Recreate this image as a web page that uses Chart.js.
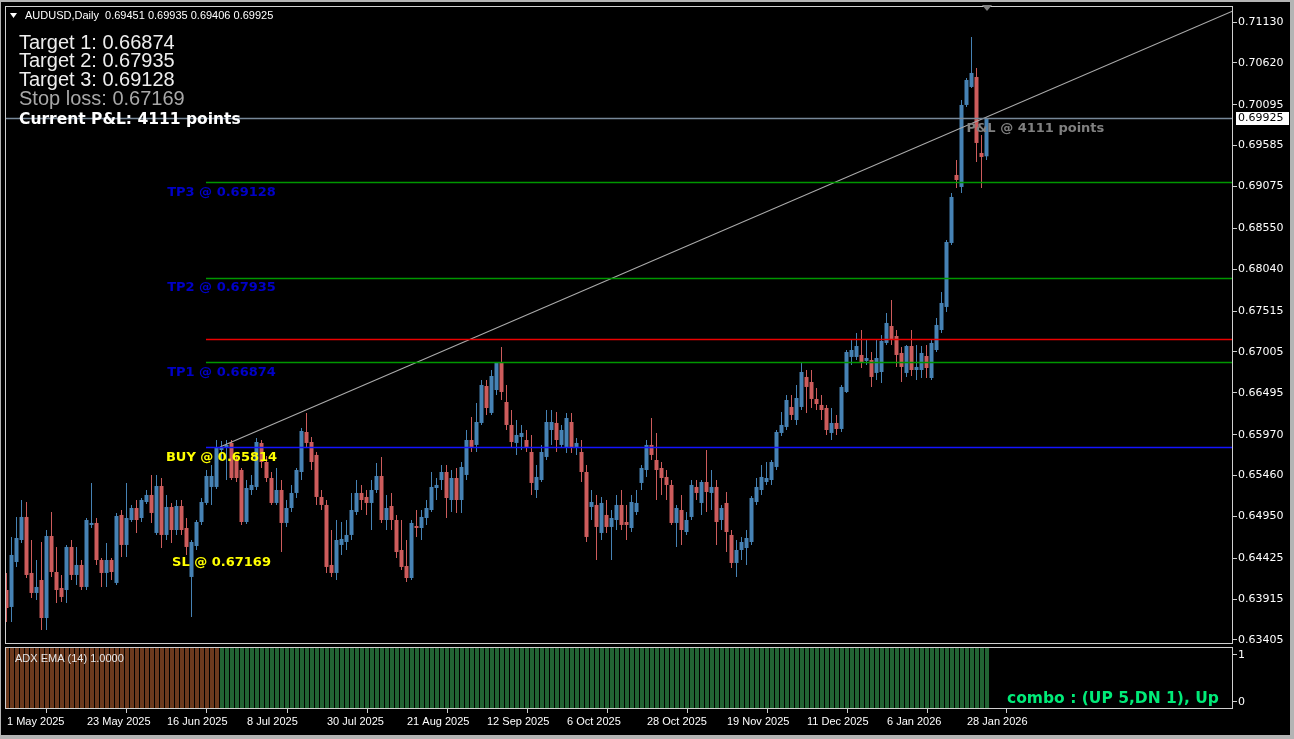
<!DOCTYPE html>
<html>
<head>
<meta charset="utf-8">
<title>AUDUSD,Daily</title>
<script src="https://cdn.jsdelivr.net/npm/chart.js@4.4.1/dist/chart.umd.min.js"></script>
<style>
  html, body { margin: 0; padding: 0; background: #b4b4b4; }
  #wrap { position: relative; width: 1294px; height: 739px; overflow: hidden; }
  #bg { position: absolute; left: 1px; top: 2px; width: 1289px; height: 733px; background: #000; }
  #mainChart { position: absolute; left: 0; top: 0; }
  #adxChart { position: absolute; left: 0; top: 646px; }
</style>
</head>
<body>
<div id="wrap">
  <div id="bg"></div>
  <canvas id="mainChart" width="1294" height="646"></canvas>
  <canvas id="adxChart" width="1294" height="93"></canvas>
</div>
<script>
// daily candles, 1 May 2025 .. 3 Feb 2026
const openP = [
  0.64030, 0.63818, 0.64380, 0.64655, 0.64943, 0.64243, 0.63993, 0.64155, 0.63680, 0.64705,
  0.64255, 0.64055, 0.64030, 0.64568, 0.64218, 0.64343, 0.64068, 0.64843, 0.64868, 0.64405,
  0.64243, 0.64405, 0.64118, 0.64968, 0.64593, 0.64905, 0.65055, 0.64930, 0.65130, 0.65218,
  0.64743, 0.65330, 0.64718, 0.65068, 0.64780, 0.65080, 0.64805, 0.64193, 0.64580, 0.64880,
  0.65118, 0.65318, 0.65318, 0.65780, 0.65805, 0.65868, 0.65655, 0.65530, 0.64880, 0.65280,
  0.65318, 0.65868, 0.65630, 0.65430, 0.65118, 0.65280, 0.64868, 0.65055, 0.65243, 0.65505,
  0.66005, 0.65880, 0.65718, 0.65193, 0.65093, 0.64343, 0.64243, 0.64593, 0.64630, 0.64718,
  0.65005, 0.65243, 0.65193, 0.65118, 0.65280, 0.65455, 0.64905, 0.65080, 0.64905, 0.64530,
  0.64330, 0.64180, 0.64830, 0.64805, 0.64930, 0.65030, 0.65305, 0.65405, 0.65505, 0.65155,
  0.65430, 0.65155, 0.65468, 0.65905, 0.65843, 0.66118, 0.66580, 0.66243, 0.66530, 0.66880,
  0.66380, 0.66093, 0.65868, 0.65943, 0.65905, 0.65755, 0.65280, 0.65405, 0.65693, 0.66030,
  0.66118, 0.65843, 0.65805, 0.66130, 0.65805, 0.65755, 0.65505, 0.65068, 0.65093, 0.64743,
  0.64968, 0.64818, 0.64905, 0.65093, 0.64880, 0.64805, 0.65005, 0.65368, 0.65530, 0.65843,
  0.65655, 0.65555, 0.65443, 0.65343, 0.64868, 0.65030, 0.64755, 0.64943, 0.65318, 0.65118,
  0.65380, 0.65243, 0.65318, 0.64905, 0.65118, 0.64718, 0.64368, 0.64530, 0.64555, 0.64630,
  0.65130, 0.65280, 0.65380, 0.65405, 0.65568, 0.65993, 0.66068, 0.66318, 0.66155, 0.66318,
  0.66693, 0.66630, 0.66418, 0.66343, 0.66305, 0.65993, 0.66118, 0.66043, 0.66505, 0.66943,
  0.66943, 0.66968, 0.66893, 0.66905, 0.66743, 0.66755, 0.67118, 0.67330, 0.67205, 0.66993,
  0.66743, 0.67080, 0.66780, 0.66780, 0.66955, 0.66680, 0.67030, 0.67280, 0.67568, 0.68368,
  0.69218, 0.69068, 0.70093, 0.70318, 0.70443, 0.69493, 0.69451
];
const highP = [
  0.64243, 0.64693, 0.64943, 0.65155, 0.65130, 0.64655, 0.64405, 0.64630, 0.64780, 0.65005,
  0.64568, 0.64218, 0.64593, 0.64655, 0.64568, 0.64405, 0.64930, 0.65368, 0.64930, 0.64430,
  0.64618, 0.64430, 0.64993, 0.65030, 0.65368, 0.65093, 0.65155, 0.65180, 0.65280, 0.65468,
  0.65468, 0.65430, 0.65218, 0.65118, 0.65155, 0.65155, 0.64930, 0.64655, 0.64905, 0.65180,
  0.65530, 0.65593, 0.65905, 0.65893, 0.65905, 0.65905, 0.65718, 0.65555, 0.65405, 0.65468,
  0.65930, 0.65905, 0.65705, 0.65505, 0.65555, 0.65405, 0.65155, 0.65343, 0.65555, 0.66055,
  0.66243, 0.65943, 0.65755, 0.65280, 0.65155, 0.64780, 0.64905, 0.64880, 0.64905, 0.65243,
  0.65405, 0.65343, 0.65280, 0.65405, 0.65618, 0.65693, 0.65218, 0.65243, 0.64968, 0.64905,
  0.64655, 0.64905, 0.65030, 0.65030, 0.65155, 0.65505, 0.65430, 0.65593, 0.65593, 0.65530,
  0.65555, 0.65630, 0.66030, 0.66193, 0.66368, 0.66655, 0.66655, 0.66780, 0.66880, 0.67068,
  0.66593, 0.66280, 0.66155, 0.66093, 0.66030, 0.65968, 0.65593, 0.65843, 0.66280, 0.66280,
  0.66255, 0.66093, 0.66243, 0.66243, 0.65930, 0.65905, 0.65593, 0.65280, 0.65218, 0.65193,
  0.65155, 0.65030, 0.65218, 0.65280, 0.65093, 0.65218, 0.65280, 0.65593, 0.65905, 0.66180,
  0.65993, 0.65630, 0.65530, 0.65405, 0.65093, 0.65218, 0.65005, 0.65405, 0.65405, 0.65405,
  0.65780, 0.65530, 0.65405, 0.65093, 0.65255, 0.64780, 0.64655, 0.64693, 0.64780, 0.65205,
  0.65430, 0.65593, 0.65630, 0.65655, 0.66030, 0.66255, 0.66468, 0.66468, 0.66593, 0.66868,
  0.66780, 0.66780, 0.66555, 0.66468, 0.66343, 0.66305, 0.66218, 0.66593, 0.67030, 0.67155,
  0.67243, 0.67280, 0.67155, 0.67005, 0.67155, 0.67218, 0.67493, 0.67655, 0.67280, 0.67068,
  0.67093, 0.67280, 0.67093, 0.67080, 0.67093, 0.67155, 0.67430, 0.67755, 0.68405, 0.68993,
  0.69405, 0.70155, 0.70430, 0.70943, 0.70555, 0.69718, 0.69935
];
const lowP = [
  0.63630, 0.63630, 0.64318, 0.64618, 0.64180, 0.63930, 0.63905, 0.63530, 0.63530, 0.64193,
  0.63868, 0.63880, 0.63868, 0.64155, 0.64093, 0.64030, 0.64030, 0.64805, 0.64343, 0.64068,
  0.64068, 0.64155, 0.64093, 0.64443, 0.64443, 0.64880, 0.64743, 0.64880, 0.65105, 0.64868,
  0.64718, 0.64555, 0.64655, 0.64618, 0.64718, 0.64718, 0.64468, 0.63693, 0.64530, 0.64843,
  0.65093, 0.65093, 0.65293, 0.65655, 0.65405, 0.65405, 0.65380, 0.64843, 0.64855, 0.65218,
  0.65280, 0.65555, 0.65380, 0.65093, 0.65093, 0.64505, 0.64818, 0.65005, 0.65180, 0.65405,
  0.65818, 0.65530, 0.65093, 0.65030, 0.64243, 0.64193, 0.64155, 0.64468, 0.64530, 0.64655,
  0.64968, 0.65030, 0.64968, 0.64780, 0.65243, 0.64868, 0.64780, 0.64780, 0.64430, 0.64280,
  0.64130, 0.64155, 0.64693, 0.64655, 0.64843, 0.65005, 0.65155, 0.65280, 0.64930, 0.65005,
  0.64993, 0.64993, 0.65405, 0.65755, 0.65755, 0.66093, 0.66218, 0.66218, 0.66468, 0.66405,
  0.66030, 0.65805, 0.65718, 0.65780, 0.65755, 0.65218, 0.65180, 0.65380, 0.65655, 0.65843,
  0.65755, 0.65805, 0.65743, 0.65743, 0.65718, 0.65380, 0.64630, 0.64905, 0.64405, 0.64655,
  0.64743, 0.64405, 0.64780, 0.64780, 0.64655, 0.64755, 0.64968, 0.65280, 0.65443, 0.65655,
  0.65155, 0.65218, 0.65155, 0.64843, 0.64568, 0.64593, 0.64718, 0.64905, 0.65155, 0.64968,
  0.65005, 0.65030, 0.64593, 0.64780, 0.64505, 0.64305, 0.64193, 0.64405, 0.64343, 0.64593,
  0.65093, 0.65218, 0.65343, 0.65343, 0.65530, 0.65955, 0.66030, 0.66155, 0.66093, 0.66280,
  0.66243, 0.66305, 0.66280, 0.66155, 0.65968, 0.65905, 0.65968, 0.66005, 0.66493, 0.66843,
  0.66905, 0.66805, 0.66843, 0.66568, 0.66655, 0.66618, 0.67093, 0.67093, 0.66818, 0.66630,
  0.66693, 0.66705, 0.66655, 0.66680, 0.66680, 0.66655, 0.67005, 0.67243, 0.67505, 0.68343,
  0.69055, 0.68993, 0.70068, 0.70305, 0.69380, 0.69055, 0.69406
];
const closeP = [
  0.63805, 0.64468, 0.64680, 0.64943, 0.64218, 0.63993, 0.64068, 0.63680, 0.64705, 0.64255,
  0.64030, 0.63943, 0.64568, 0.64218, 0.64343, 0.64068, 0.64905, 0.64868, 0.64405, 0.64243,
  0.64405, 0.64255, 0.64955, 0.64593, 0.64930, 0.65055, 0.64905, 0.65155, 0.65218, 0.64993,
  0.65330, 0.64718, 0.65068, 0.64780, 0.65080, 0.64780, 0.64568, 0.64630, 0.64880, 0.65130,
  0.65455, 0.65455, 0.65805, 0.65818, 0.65843, 0.65430, 0.65430, 0.64880, 0.65305, 0.65343,
  0.65880, 0.65630, 0.65430, 0.65118, 0.65280, 0.64868, 0.65055, 0.65243, 0.65530, 0.66018,
  0.65868, 0.65630, 0.65193, 0.65093, 0.64318, 0.64243, 0.64655, 0.64668, 0.64718, 0.65030,
  0.65243, 0.65155, 0.65118, 0.65280, 0.65455, 0.64905, 0.65055, 0.64905, 0.64505, 0.64318,
  0.64180, 0.64868, 0.64805, 0.64943, 0.65055, 0.65318, 0.65343, 0.65505, 0.65180, 0.65430,
  0.65155, 0.65568, 0.65905, 0.65818, 0.66130, 0.66593, 0.66305, 0.66705, 0.66868, 0.66505,
  0.66093, 0.65880, 0.65968, 0.65993, 0.65805, 0.65368, 0.65443, 0.65755, 0.66130, 0.66130,
  0.65905, 0.66030, 0.66180, 0.65805, 0.65868, 0.65505, 0.64693, 0.65130, 0.64818, 0.65118,
  0.64818, 0.64930, 0.65093, 0.64843, 0.64843, 0.65130, 0.65118, 0.65555, 0.65843, 0.65718,
  0.65530, 0.65430, 0.65343, 0.64868, 0.65055, 0.64780, 0.64905, 0.65343, 0.65243, 0.65380,
  0.65255, 0.65318, 0.64880, 0.65055, 0.64755, 0.64368, 0.64530, 0.64630, 0.64680, 0.65180,
  0.65318, 0.65443, 0.65430, 0.65630, 0.66005, 0.66093, 0.66405, 0.66218, 0.66430, 0.66755,
  0.66568, 0.66418, 0.66355, 0.66280, 0.66030, 0.66118, 0.66043, 0.66568, 0.67005, 0.67030,
  0.67080, 0.66880, 0.66930, 0.66693, 0.66930, 0.67143, 0.67368, 0.67168, 0.66968, 0.66818,
  0.67080, 0.66780, 0.66818, 0.66993, 0.66805, 0.67118, 0.67343, 0.67618, 0.68380, 0.68943,
  0.69155, 0.70093, 0.70405, 0.70493, 0.69618, 0.69443, 0.69925
];

const priceTicks = [0.71130, 0.70620, 0.70095, 0.69585, 0.69075, 0.68550, 0.68040, 0.67515,
                    0.67005, 0.66495, 0.65970, 0.65460, 0.64950, 0.64425, 0.63915, 0.63405];
const dateTickIdx = [0, 16, 32, 48, 64, 80, 96, 112, 128, 144, 160, 176, 192];
const dateLabels = ['1 May 2025', '23 May 2025', '16 Jun 2025', '8 Jul 2025', '30 Jul 2025',
                    '21 Aug 2025', '12 Sep 2025', '6 Oct 2025', '28 Oct 2025', '19 Nov 2025',
                    '11 Dec 2025', '6 Jan 2026', '28 Jan 2026'];

// trade levels
const buyPrice = 0.65814;
const slPrice = 0.67169;
const tpPrices = [0.66874, 0.67935, 0.69128];
const levelStartIdx = 40;
const trendX = [42.7, 245.28];
const trendY = [0.65818, 0.71268];

// ADX EMA(14) regime per bar: D = brown, U = green
const adxTrend = [
  'DDDDDDDDDD', 'DDDDDDDDDD', 'DDDDDDDDDD', 'DDDDDDDDDD', 'DDDUUUUUUU',
  'UUUUUUUUUU', 'UUUUUUUUUU', 'UUUUUUUUUU', 'UUUUUUUUUU', 'UUUUUUUUUU',
  'UUUUUUUUUU', 'UUUUUUUUUU', 'UUUUUUUUUU', 'UUUUUUUUUU', 'UUUUUUUUUU',
  'UUUUUUUUUU', 'UUUUUUUUUU', 'UUUUUUUUUU', 'UUUUUUUUUU', 'UUUUUUU'
].join('');
const adxLow = -0.15;
const adxHigh = 1.17;

const xMin = -0.3, xMax = 245.3;
const yMin = 0.63355, yMax = 0.71330;

const upColor = 'rgb(70,130,180)';
const dnColor = 'rgb(205,92,92)';
const frameColor = '#cfcfcf';

const idx = closeP.map((_, i) => i);
const candleColors = closeP.map((c, i) => c >= openP[i] ? upColor : dnColor);
const last = closeP.length - 1;

// horizontal objects: price, colour, first bar (null = whole width)
const levels = [
    [tpPrices[2], 'rgb(0,150,0)', levelStartIdx],
    [tpPrices[1], 'rgb(0,150,0)', levelStartIdx],
    [tpPrices[0], 'rgb(0,150,0)', levelStartIdx],
    [slPrice, 'rgb(235,0,0)', levelStartIdx],
    [buyPrice, 'rgb(20,20,255)', levelStartIdx],
    [closeP[last], 'rgb(119,136,153)', null]
];

function drawFrame(chart) {
    const a = chart.chartArea;
    const ctx = chart.ctx;
    ctx.save();
    ctx.strokeStyle = frameColor;
    ctx.lineWidth = 1;
    ctx.strokeRect(a.left + 0.5, a.top + 0.5, a.right - a.left - 1, a.bottom - a.top - 1);
    ctx.restore();
}

// level lines, texts, labels and the price box on top of the main window
const overlayPlugin = {
    id: 'overlay',
    afterDatasetsDraw(chart) {
        const ctx = chart.ctx;
        const xs = chart.scales.x;
        const ys = chart.scales.y;
        const a = chart.chartArea;

        ctx.save();
        ctx.lineWidth = 1.5;
        levels.forEach(([p, color, from]) => {
            const y = Math.round(ys.getPixelForValue(p)) + 0.5;
            const x0 = from === null ? a.left : Math.round(xs.getPixelForValue(from));
            ctx.strokeStyle = color;
            ctx.beginPath();
            ctx.moveTo(x0, y);
            ctx.lineTo(a.right, y);
            ctx.stroke();
        });
        ctx.restore();

        drawFrame(chart);
        ctx.save();
        ctx.textBaseline = 'middle';

        // header
        ctx.fillStyle = '#ffffff';
        ctx.beginPath();
        ctx.moveTo(10, 13); ctx.lineTo(17, 13); ctx.lineTo(13.5, 18); ctx.closePath();
        ctx.fill();
        ctx.font = '11px "Liberation Sans"';
        ctx.textAlign = 'left';
        ctx.fillText('AUDUSD,Daily  ' + [openP[last], highP[last], lowP[last], closeP[last]]
            .map(v => v.toFixed(5)).join(' '), 25, 16);

        // info block
        ctx.font = '20px "Liberation Sans"';
        ctx.fillStyle = '#eeeeee';
        tpPrices.forEach((p, k) => ctx.fillText('Target ' + (k + 1) + ': ' + p.toFixed(5), 19, 43 + k * 18.7));
        ctx.fillStyle = '#a8a8a8';
        ctx.fillText('Stop loss: ' + slPrice.toFixed(5), 19, 99);
        const points = Math.round((closeP[last] - buyPrice) * 100000);
        ctx.font = 'bold 15.5px "DejaVu Sans"';
        ctx.fillStyle = '#ffffff';
        ctx.fillText('Current P&L: ' + points + ' points', 19, 120);

        // level labels
        ctx.font = 'bold 13px "DejaVu Sans"';
        ctx.textAlign = 'center';
        const lx = xs.getPixelForValue(43);
        ctx.fillStyle = '#0000c8';
        tpPrices.forEach((p, k) => ctx.fillText('TP' + (k + 1) + ' @ ' + p.toFixed(5), lx, ys.getPixelForValue(p) + 10));
        ctx.fillStyle = '#ffff00';
        ctx.fillText('BUY @ ' + buyPrice.toFixed(5), lx, ys.getPixelForValue(buyPrice) + 10);
        ctx.fillText('SL @ ' + slPrice.toFixed(5), lx, ys.getPixelForValue(0.64492) + 10);
        ctx.textAlign = 'left';
        ctx.fillStyle = '#808080';
        ctx.fillText('P&L @ ' + points + ' points', xs.getPixelForValue(192), ys.getPixelForValue(closeP[last]) + 10);

        // bid price box on the axis
        const by = Math.round(ys.getPixelForValue(closeP[last]));
        ctx.fillStyle = '#ffffff';
        ctx.fillRect(1236, by - 6, 53, 13);
        ctx.fillStyle = '#000000';
        ctx.font = '11px "DejaVu Sans"';
        ctx.fillText(closeP[last].toFixed(5), 1238, by + 0.5);

        // chart shift marker
        const sx = Math.round(xs.getPixelForValue(last));
        ctx.fillStyle = '#808080';
        ctx.beginPath();
        ctx.moveTo(sx - 5, 5); ctx.lineTo(sx + 5, 5); ctx.lineTo(sx, 11); ctx.closePath();
        ctx.fill();
        ctx.restore();
    }
};

const mainChart = new Chart(document.getElementById('mainChart'), {
    type: 'bar',
    data: {
        datasets: [
            {
                type: 'bar',
                data: idx.map(i => ({ x: i, y: [lowP[i], highP[i]] })),
                backgroundColor: candleColors,
                barThickness: 1, grouped: false, inflateAmount: 0, order: 3
            },
            {
                type: 'bar',
                data: idx.map(i => ({ x: i, y: [openP[i], closeP[i]] })),
                backgroundColor: candleColors,
                barThickness: 4, minBarLength: 1, grouped: false, inflateAmount: 0, order: 2
            },
            {
                type: 'line',
                data: trendX.map((x, k) => ({ x: x, y: trendY[k] })),
                borderColor: 'rgb(170,170,170)', borderWidth: 1.2, pointRadius: 0, order: 0
            }
        ]
    },
    options: {
        responsive: false,
        animation: false,
        events: [],
        layout: { padding: { left: 5, top: 6, right: 0, bottom: 2 } },
        plugins: { legend: { display: false }, tooltip: { enabled: false } },
        scales: {
            x: { type: 'linear', min: xMin, max: xMax, offset: false, display: false },
            y: {
                position: 'right', min: yMin, max: yMax,
                afterBuildTicks: s => { s.ticks = priceTicks.map(v => ({ value: v })); },
                afterFit: s => { s.width = 61; s.paddingTop = 0; s.paddingBottom = 0; },
                ticks: {
                    color: '#ffffff', padding: 1, autoSkip: false,
                    font: { family: '"DejaVu Sans"', size: 11 },
                    callback: v => v.toFixed(5)
                },
                grid: { drawOnChartArea: false, drawTicks: true, tickLength: 4, color: frameColor },
                border: { display: false }
            }
        }
    },
    plugins: [overlayPlugin]
});

const adxPlugin = {
    id: 'adxOverlay',
    afterDatasetsDraw(chart) {
        const ctx = chart.ctx;
        drawFrame(chart);
        ctx.save();
        ctx.textBaseline = 'middle';
        ctx.textAlign = 'left';
        ctx.font = '11px "Liberation Sans"';
        ctx.fillStyle = '#e6e6e6';
        ctx.fillText('ADX EMA (14) 1.0000', 15, 13);
        ctx.font = 'bold 15.5px "DejaVu Sans"';
        ctx.fillStyle = 'rgb(0,235,120)';
        ctx.fillText('combo : (UP 5,DN 1), Up', 1007, 53);
        ctx.restore();
    }
};

// histogram bars sit on whole pixels (shifted half a pixel from the candles)
const adxChart = new Chart(document.getElementById('adxChart'), {
    type: 'bar',
    data: {
        datasets: [{
            data: idx.map(i => ({ x: i, y: [adxLow, adxHigh] })),
            backgroundColor: idx.map(i => adxTrend[i] === 'U' ? 'rgb(34,100,52)' : 'rgb(108,58,30)'),
            barThickness: 4, grouped: false, inflateAmount: 0
        }]
    },
    options: {
        responsive: false,
        animation: false,
        events: [],
        layout: { padding: { left: 5, top: 1, right: 0, bottom: 0 } },
        plugins: { legend: { display: false }, tooltip: { enabled: false } },
        scales: {
            x: {
                type: 'linear', min: xMin - 0.1, max: xMax - 0.1, offset: false, position: 'bottom',
                afterBuildTicks: s => { s.ticks = dateTickIdx.map(v => ({ value: v })); },
                afterFit: s => { s.height = 30; s.paddingLeft = 0; s.paddingRight = 0; },
                ticks: {
                    color: '#ffffff', padding: 2, align: 'start', maxRotation: 0, autoSkip: false,
                    font: { family: '"Liberation Sans"', size: 11 },
                    callback: (v, i) => dateLabels[i]
                },
                grid: { drawOnChartArea: false, drawTicks: true, tickLength: 4, color: frameColor },
                border: { display: false }
            },
            y: {
                position: 'right', min: adxLow, max: adxHigh,
                afterBuildTicks: s => { s.ticks = [{ value: 1 }, { value: 0 }]; },
                afterFit: s => { s.width = 61; s.paddingTop = 0; s.paddingBottom = 0; },
                ticks: {
                    color: '#ffffff', padding: 1, autoSkip: false,
                    font: { family: '"DejaVu Sans"', size: 11 },
                    callback: v => String(v)
                },
                grid: { drawOnChartArea: false, drawTicks: true, tickLength: 4, color: frameColor },
                border: { display: false }
            }
        }
    },
    plugins: [adxPlugin]
});
</script>
</body>
</html>
